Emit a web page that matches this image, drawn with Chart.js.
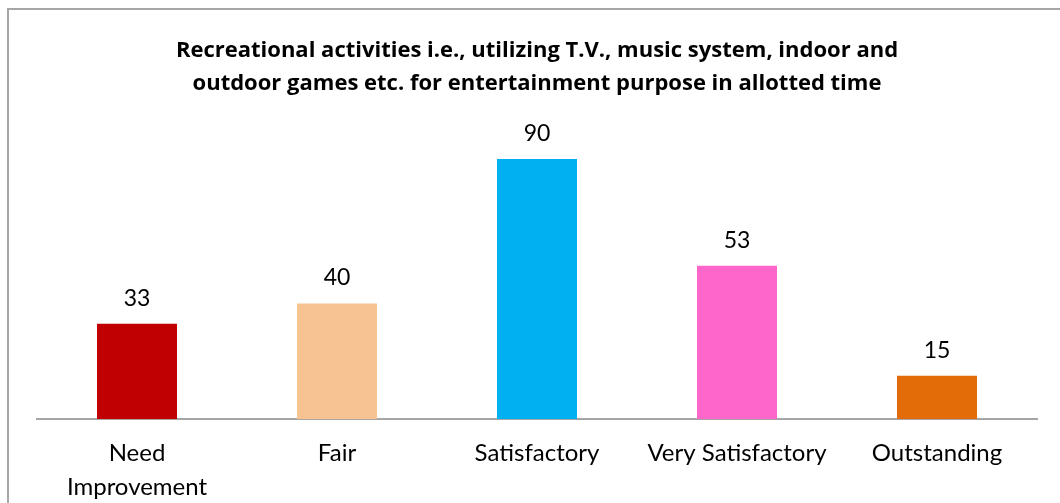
<!DOCTYPE html>
<html>
<head>
<meta charset="utf-8">
<script src="https://cdn.jsdelivr.net/npm/chart.js@4"></script>
<style>
html,body{margin:0;padding:0;background:#fff;}
#wrap{width:1060px;height:503px;position:relative;}
</style>
</head>
<body>
<div id="wrap"><canvas id="c" width="1060" height="503"></canvas></div>
<script>
const categories = [['Need','Improvement'], 'Fair', 'Satisfactory', 'Very Satisfactory', 'Outstanding'];
const values = [33, 40, 90, 53, 15];
const barColors = ['#C00000', '#F8C393', '#00B0F0', '#FF66CC', '#E36C09'];
const titleLines = ['Recreational activities i.e., utilizing T.V., music system, indoor and', 'outdoor games etc. for entertainment purpose in allotted time'];

const frame = {
  id: 'frame',
  beforeDraw(chart) {
    const ctx = chart.ctx;
    ctx.save();
    ctx.fillStyle = '#fff';
    ctx.fillRect(0, 0, chart.width, chart.height);
    ctx.strokeStyle = '#a6a6a6';
    ctx.lineWidth = 2;
    ctx.strokeRect(8, 9, 1200, 700);
    ctx.restore();
  }
};
const valueLabels = {
  id: 'valueLabels',
  afterDatasetsDraw(chart) {
    const ctx = chart.ctx;
    const meta = chart.getDatasetMeta(0);
    ctx.save();
    ctx.font = '23px Lato';
    ctx.fillStyle = '#000';
    ctx.textAlign = 'center';
    ctx.textBaseline = 'alphabetic';
    meta.data.forEach((bar, i) => {
      ctx.fillText(String(values[i]), bar.x, bar.y - 18);
    });
    ctx.restore();
  }
};

new Chart(document.getElementById('c'), {
  type: 'bar',
  data: {
    labels: categories,
    datasets: [{ data: values, backgroundColor: barColors, categoryPercentage: 1, barPercentage: 0.4 }]
  },
  options: {
    responsive: false,
    animation: false,
    layout: { padding: { left: 37, right: 23, top: 0, bottom: 0 } },
    plugins: {
      legend: { display: false },
      tooltip: { enabled: false },
      title: {
        display: true,
        text: titleLines,
        color: '#000',
        font: { family: 'Open Sans', size: 22, weight: 'bold', lineHeight: 1.5 },
        padding: { top: 34, bottom: 30 }
      }
    },
    scales: {
      y: { display: false, min: 0, max: 100 },
      x: {
        afterFit(scale) { scale.height = 84; },
        grid: { display: false, drawTicks: false },
        border: { display: true, color: '#a6a6a6', width: 2 },
        ticks: {
          color: '#000',
          font: { family: 'Lato', size: 24, lineHeight: 1.42 },
          padding: 17,
          maxRotation: 0,
          autoSkip: false
        }
      }
    }
  },
  plugins: [frame, valueLabels]
});
</script>
</body>
</html>
